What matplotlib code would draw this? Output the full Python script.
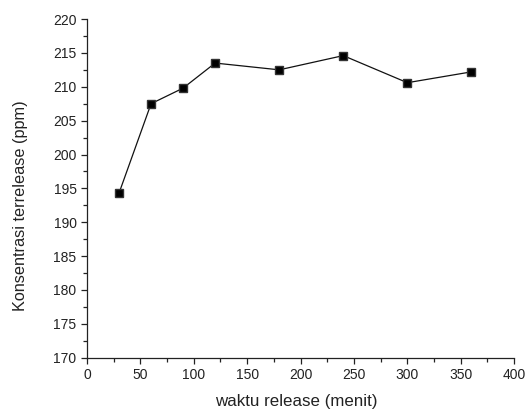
import matplotlib
matplotlib.use("Agg")
import matplotlib.pyplot as plt
from matplotlib.ticker import MultipleLocator

plt.rcParams['font.family'] = ['Liberation Sans', 'DejaVu Sans']

waktu = [30, 60, 90, 120, 180, 240, 300, 360]
konsentrasi = [194.3, 207.5, 209.8, 213.5, 212.5, 214.6, 210.6, 212.2]

fig = plt.figure(figsize=(5.26, 4.12), dpi=100)
ax = fig.add_axes([0.1654, 0.1318, 0.812, 0.822])

ax.plot(waktu, konsentrasi, color='#111111', linewidth=0.9,
        marker='s', markersize=5.2, markerfacecolor='black', markeredgecolor='#333333')

ax.set_xlim(0, 400)
ax.set_ylim(170, 220)
ax.xaxis.set_major_locator(MultipleLocator(50))
ax.xaxis.set_minor_locator(MultipleLocator(25))
ax.yaxis.set_major_locator(MultipleLocator(5))
ax.yaxis.set_minor_locator(MultipleLocator(2.5))

for s in ['top', 'right']:
    ax.spines[s].set_visible(False)
for s in ['left', 'bottom']:
    ax.spines[s].set_color('#222222')
    ax.spines[s].set_linewidth(0.9)

ax.tick_params(which='major', length=4.5, width=0.9, pad=3, color='#222222',
               labelsize=10, labelcolor='#222222')
ax.tick_params(which='minor', length=3, width=0.9, color='#222222')

ax.set_xlabel('waktu release (menit)', fontsize=12.2, color='#222222')
ax.set_ylabel('Konsentrasi terrelease (ppm)', fontsize=11.7, color='#222222')
ax.xaxis.set_label_coords(0.4906, -0.107)
ax.yaxis.set_label_coords(-0.138, 0.449)

fig.savefig('out.png', dpi=100)
